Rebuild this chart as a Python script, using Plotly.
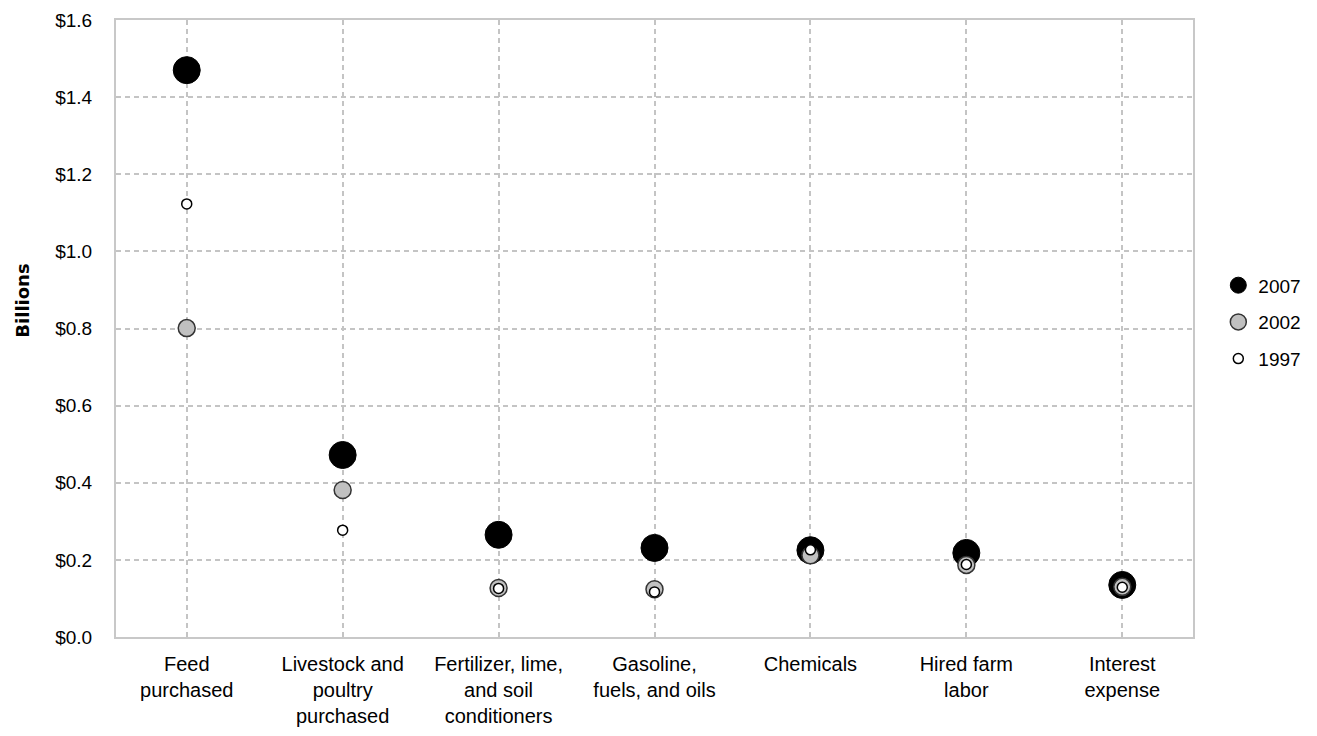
import plotly.graph_objects as go

categories = ["Feed<br>purchased", "Livestock and<br>poultry<br>purchased",
              "Fertilizer, lime,<br>and soil<br>conditioners",
              "Gasoline,<br>fuels, and oils", "Chemicals",
              "Hired farm<br>labor", "Interest<br>expense"]
v2007 = [1.470, 0.472, 0.265, 0.231, 0.225, 0.218, 0.135]
v2002 = [0.801, 0.381, 0.127, 0.124, 0.212, 0.187, 0.130]
v1997 = [1.123, 0.277, 0.126, 0.117, 0.226, 0.188, 0.129]
y_ticks = [0, 0.2, 0.4, 0.6, 0.8, 1.0, 1.2, 1.4, 1.6]
y_labels = ["$0.0", "$0.2", "$0.4", "$0.6", "$0.8", "$1.0", "$1.2", "$1.4", "$1.6"]

FONT = "Liberation Sans, Arial, sans-serif"

fig = go.Figure()
fig.add_trace(go.Scatter(x=categories, y=v2007, mode="markers", name="2007", legendgroup="a",
                         marker=dict(size=27, color="black", line=dict(color="black", width=1))))
fig.add_trace(go.Scatter(x=categories, y=v2002, mode="markers", name="2002", legendgroup="b",
                         marker=dict(size=17, color="#c0c0c0", line=dict(color="#333333", width=1.5))))
fig.add_trace(go.Scatter(x=categories, y=v1997, mode="markers", name="1997", legendgroup="c",
                         marker=dict(size=10, color="white", line=dict(color="black", width=1.5))))

fig.update_layout(
    width=1301, height=720,
    paper_bgcolor="white", plot_bgcolor="white",
    margin=dict(l=108, r=116, t=12, b=91, autoexpand=False),
    font=dict(family=FONT, size=19, color="black"),
    showlegend=True,
    legend=dict(x=1.0235, y=0.51, xanchor="left", yanchor="middle",
                itemsizing="trace", font=dict(size=19), tracegroupgap=9),
    annotations=[dict(text="<b>Billions</b>", textangle=-90, xref="paper", yref="paper",
                      x=-0.0864, y=0.545, xanchor="center", yanchor="middle", showarrow=False,
                      font=dict(family="DejaVu Sans", size=18, color="black"))],
)
fig.update_xaxes(type="category", showgrid=True, gridcolor="#c4c4c4", griddash="5px,4px",
                 gridwidth=1.5, showline=True, linecolor="#c8c8c8", linewidth=2, mirror=True,
                 ticks="", ticklabelstandoff=8, tickfont=dict(size=20), automargin=False)
fig.update_yaxes(range=[0, 1.6], tickvals=y_ticks, ticktext=y_labels,
                 showgrid=True, gridcolor="#c4c4c4", griddash="5px,4px", gridwidth=1.5,
                 showline=True, linecolor="#c8c8c8", linewidth=2, mirror=True, zeroline=False,
                 ticks="", ticklabelstandoff=18, tickfont=dict(size=19), automargin=False)

fig.write_html("out.html")
